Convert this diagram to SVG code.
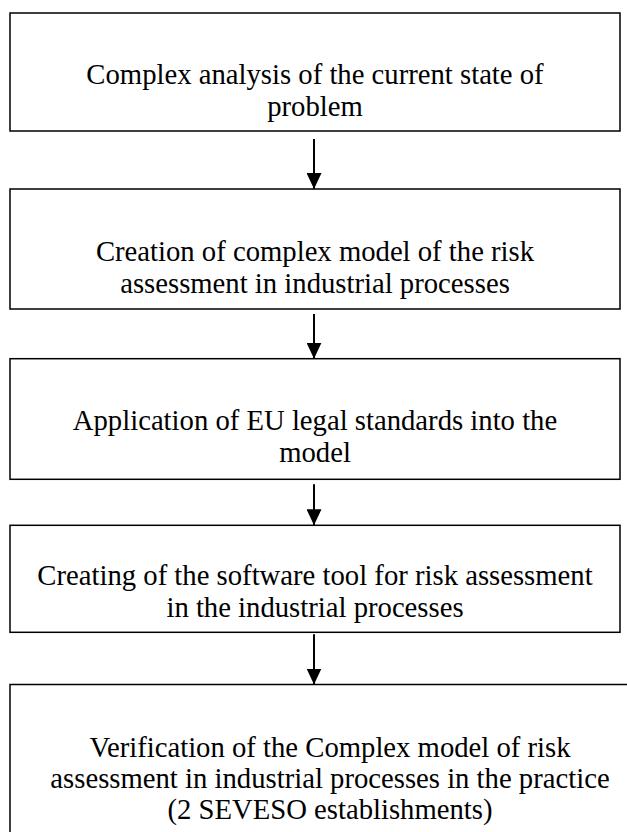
<svg xmlns="http://www.w3.org/2000/svg" width="627" height="832" viewBox="0 0 627 832">
  <style>
    .box { fill: #ffffff; stroke: #000000; stroke-width: 1.5; }
    .lbl { font-family: "Liberation Serif", "Times New Roman", serif; font-size: 28.7px; fill: #000000; text-anchor: middle; }
    .conn { stroke: #000000; stroke-width: 2; fill: none; }
  </style>
  <defs>
    <marker id="arrow" viewBox="0 0 16 15" refX="16" refY="7.5" markerWidth="16" markerHeight="15" markerUnits="userSpaceOnUse" orient="auto">
      <path d="M0,0 L16,7.5 L0,15 Z" fill="#000000"/>
    </marker>
  </defs>
  <rect width="627" height="832" fill="#ffffff"/>
  <g id="node1">
    <rect class="box" x="10" y="13" width="610" height="118"/>
    <text class="lbl" x="315" y="84">Complex analysis of the current state of</text>
    <text class="lbl" x="315" y="116">problem</text>
  </g>
  <g id="node2">
    <rect class="box" x="10" y="189" width="610" height="120"/>
    <text class="lbl" x="315" y="261">Creation of complex model of the risk</text>
    <text class="lbl" x="315" y="293">assessment in industrial processes</text>
  </g>
  <g id="node3">
    <rect class="box" x="10" y="358.7" width="610" height="120.6"/>
    <text class="lbl" x="315" y="430">Application of EU legal standards into the</text>
    <text class="lbl" x="315" y="462">model</text>
  </g>
  <g id="node4">
    <rect class="box" x="10" y="525.3" width="610" height="107"/>
    <text class="lbl" x="315" y="584.5">Creating of the software tool for risk assessment</text>
    <text class="lbl" x="315" y="616.5">in the industrial processes</text>
  </g>
  <g id="node5">
    <rect class="box" x="10" y="684.5" width="640" height="170"/>
    <text class="lbl" x="330" y="756.5">Verification of the Complex model of risk</text>
    <text class="lbl" x="330" y="788">assessment in industrial processes in the practice</text>
    <text class="lbl" x="330" y="819">(2 SEVESO establishments)</text>
  </g>
  <g id="connectors">
    <line class="conn" x1="314" y1="139" x2="314" y2="189" marker-end="url(#arrow)"/>
    <line class="conn" x1="314" y1="314" x2="314" y2="358.7" marker-end="url(#arrow)"/>
    <line class="conn" x1="314" y1="484.3" x2="314" y2="525.3" marker-end="url(#arrow)"/>
    <line class="conn" x1="314" y1="634.3" x2="314" y2="684.5" marker-end="url(#arrow)"/>
  </g>
</svg>
